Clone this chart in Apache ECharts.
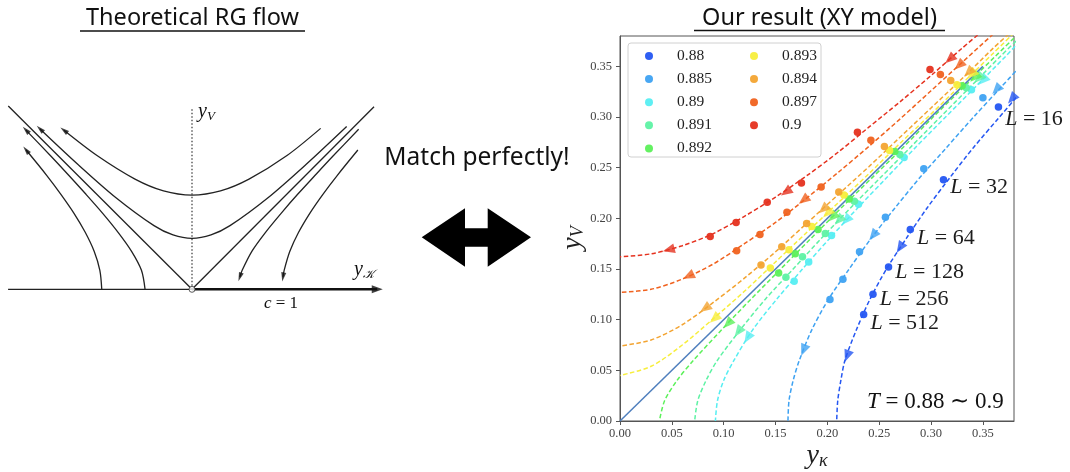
<!DOCTYPE html>
<html><head><meta charset="utf-8">
<script src="https://cdn.jsdelivr.net/npm/echarts@6/dist/echarts.min.js"></script>
<style>html,body{margin:0;padding:0;background:#fff}#c{width:1070px;height:472px}</style>
</head><body><div id="c"></div>
<script>
// ---------------- data (right panel: XY model RG flow) ----------------
const temps = ['0.88','0.885','0.89','0.891','0.892','0.893','0.894','0.897','0.9'];
const sizesL = [16, 32, 64, 128, 256, 512];
const tickValues = [0, 0.05, 0.10, 0.15, 0.20, 0.25, 0.30, 0.35];

// measured points (L = 16 ... 512) for each T
const points088  = [[0.365,0.310],[0.312,0.238],[0.280,0.189],[0.259,0.152],[0.244,0.125],[0.235,0.105]];
const points0885 = [[0.350,0.319],[0.293,0.249],[0.256,0.201],[0.231,0.167],[0.215,0.140],[0.2025,0.120]];
const points089  = [[0.339,0.327],[0.274,0.260],[0.230,0.214],[0.204,0.183],[0.182,0.157],[0.168,0.138]];
const points0891 = [[0.334,0.329],[0.270,0.263],[0.226,0.217],[0.198,0.185],[0.176,0.162],[0.160,0.142]];
const points0892 = [[0.330,0.331],[0.265,0.266],[0.221,0.219],[0.191,0.189],[0.169,0.165],[0.153,0.146]];
const points0893 = [[0.325,0.332],[0.260,0.267],[0.216,0.223],[0.185,0.192],[0.163,0.169],[0.145,0.151]];
const points0894 = [[0.319,0.336],[0.255,0.271],[0.211,0.226],[0.180,0.195],[0.156,0.172],[0.136,0.154]];
const points0897 = [[0.309,0.342],[0.242,0.277],[0.194,0.231],[0.161,0.206],[0.135,0.184],[0.1125,0.168]];
const points090  = [[0.299,0.347],[0.229,0.285],[0.175,0.235],[0.142,0.216],[0.112,0.196],[0.087,0.182]];

// flow curves (dashed), in flow direction
const curve088  = [[0.391,0.33],[0.366,0.30],[0.341,0.27],[0.318,0.24],[0.296,0.21],[0.276,0.18],[0.257,0.15],[0.241,0.12],[0.228,0.09],[0.217,0.06],[0.213,0.04],[0.210,0.02],[0.209,0]];
const curve0885 = [[0.386,0.35],[0.368,0.33],[0.341,0.30],[0.315,0.27],[0.289,0.24],[0.265,0.21],[0.242,0.18],[0.221,0.15],[0.201,0.12],[0.185,0.09],[0.173,0.06],[0.167,0.04],[0.163,0.02],[0.162,0]];
const curve089  = [[0.381,0.37],[0.372,0.36],[0.343,0.33],[0.314,0.30],[0.285,0.27],[0.257,0.24],[0.229,0.21],[0.202,0.18],[0.176,0.15],[0.151,0.12],[0.128,0.09],[0.110,0.06],[0.100,0.04],[0.094,0.02],[0.092,0]];
const curve0891 = [[0.382,0.375],[0.367,0.36],[0.338,0.33],[0.309,0.30],[0.280,0.27],[0.251,0.24],[0.222,0.21],[0.194,0.18],[0.167,0.15],[0.140,0.12],[0.116,0.09],[0.094,0.06],[0.083,0.04],[0.075,0.02],[0.072,0]];
const curve0892 = [[0.380,0.378],[0.362,0.36],[0.332,0.33],[0.302,0.30],[0.273,0.27],[0.243,0.24],[0.213,0.21],[0.184,0.18],[0.155,0.15],[0.126,0.12],[0.098,0.09],[0.071,0.06],[0.055,0.04],[0.043,0.02],[0.038,0]];
const curve0893 = [[0.38,0.383],[0.36,0.363],[0.33,0.333],[0.30,0.303],[0.27,0.274],[0.24,0.244],[0.21,0.215],[0.18,0.186],[0.15,0.157],[0.12,0.128],[0.09,0.101],[0.06,0.075],[0.03,0.054],[0,0.045]];
const curve0894 = [[0.375,0.382],[0.36,0.368],[0.33,0.338],[0.30,0.309],[0.27,0.280],[0.24,0.251],[0.21,0.223],[0.18,0.195],[0.15,0.167],[0.12,0.141],[0.09,0.117],[0.06,0.095],[0.03,0.080],[0,0.074]];
const curve0897 = [[0.36,0.382],[0.33,0.354],[0.30,0.326],[0.27,0.298],[0.24,0.271],[0.21,0.245],[0.18,0.220],[0.15,0.196],[0.12,0.175],[0.09,0.155],[0.06,0.140],[0.03,0.130],[0,0.127]];
const curve090  = [[0.345,0.381],[0.33,0.368],[0.30,0.341],[0.27,0.315],[0.24,0.290],[0.21,0.265],[0.18,0.242],[0.15,0.221],[0.12,0.202],[0.09,0.185],[0.06,0.173],[0.03,0.165],[0,0.162]];

// arrow head positions along each flow curve
const arrows088  = [[0.378,0.318],[0.270,0.171],[0.219,0.064]];
const arrows0885 = [[0.363,0.327],[0.244,0.183],[0.177,0.070]];
const arrows089  = [[0.350,0.336],[0.218,0.198],[0.123,0.082]];
const arrows0891 = [[0.346,0.338],[0.211,0.198],[0.114,0.088]];
const arrows0892 = [[0.342,0.339],[0.205,0.201],[0.104,0.096]];
const arrows0893 = [[0.339,0.342],[0.200,0.205],[0.091,0.101]];
const arrows0894 = [[0.336,0.344],[0.196,0.209],[0.082,0.111]];
const arrows0897 = [[0.327,0.351],[0.177,0.218],[0.066,0.143]];
const arrows090  = [[0.318,0.357],[0.160,0.226],[0.047,0.169]];

const diagonal = [[0,0],[0.35,0.35]];

// ---------------- data (left panel: schematic RG flow) ----------------
const schemAxisLeft  = [[-0.968,0],[0,0]];
const schemAxisRight = [[0,0],[0.975,0]];
const schemSepLeft   = [[0,0],[-0.967,0.965]];
const schemSepRight  = [[0,0],[0.958,0.961]];
const schemVertical  = [[0,0],[0,0.954]];
const schemCurveA = [[0.677,0.847],[0.5,0.704],[0.3,0.58],[0.15,0.518],[0,0.496],[-0.15,0.518],[-0.3,0.58],[-0.5,0.704],[-0.674,0.837]];
const schemCurveB = [[0.814,0.857],[0.6,0.657],[0.4,0.482],[0.2,0.335],[0.1,0.286],[0,0.268],[-0.1,0.286],[-0.2,0.335],[-0.4,0.482],[-0.6,0.657],[-0.8,0.844]];
const schemFlowL1 = [[-0.475,0],[-0.485,0.1],[-0.515,0.2],[-0.562,0.3],[-0.621,0.4],[-0.69,0.5],[-0.765,0.6],[-0.873,0.733]];
const schemFlowL2 = [[-0.247,0],[-0.266,0.1],[-0.318,0.2],[-0.389,0.3],[-0.47,0.4],[-0.558,0.5],[-0.649,0.6],[-0.742,0.7],[-0.874,0.838]];
const schemFlowR1 = [[0.877,0.842],[0.741,0.7],[0.648,0.6],[0.556,0.5],[0.469,0.4],[0.387,0.3],[0.315,0.2],[0.264,0.1],[0.252,0.065]];
const schemFlowR2 = [[0.873,0.733],[0.765,0.6],[0.689,0.5],[0.62,0.4],[0.561,0.3],[0.515,0.2],[0.485,0.1],[0.479,0.065]];
const schemOrigin = [[0,0]];

// ---------------- styles ----------------
const tempColors = ['#2456f2','#3ea2f2','#56eef2','#5ef2a4','#5cf05a','#f7ee3c','#f3a432','#f0621f','#e5321f'];
const labelOffsets = [[0,12],[0,7],[0,9],[0,5],[0,5],[0,9]];

const pointsByT = [points088,points0885,points089,points0891,points0892,points0893,points0894,points0897,points090];
const curvesByT = [curve088,curve0885,curve089,curve0891,curve0892,curve0893,curve0894,curve0897,curve090];
const arrowsByT = [arrows088,arrows0885,arrows089,arrows0891,arrows0892,arrows0893,arrows0894,arrows0897,arrows090];

const serif = 'Liberation Serif';
const sans = 'Noto Sans';

const chart = echarts.init(document.getElementById('c'), null, {renderer:'canvas'});

function segDist(p, a, b) {
  const vx=b[0]-a[0], vy=b[1]-a[1];
  let t=((p[0]-a[0])*vx+(p[1]-a[1])*vy)/(vx*vx+vy*vy||1);
  t=Math.max(0,Math.min(1,t));
  const dx=a[0]+t*vx-p[0], dy=a[1]+t*vy-p[1];
  return dx*dx+dy*dy;
}
function rotationAt(axisIdx, curve, pos) {
  let best=0, bd=Infinity;
  for (let k=0;k<curve.length-1;k++){ const d=segDist(pos,curve[k],curve[k+1]); if(d<bd){bd=d;best=k;} }
  const f={xAxisIndex:axisIdx,yAxisIndex:axisIdx};
  const p0=chart.convertToPixel(f,curve[best]);
  const p1=chart.convertToPixel(f,curve[best+1]);
  if(!p0||!p1) return 0;
  return -90 - Math.atan2(p1[1]-p0[1], p1[0]-p0[0])*180/Math.PI;
}

function buildSeries(withRot) {
  const series = [];
  // right panel
  series.push({type:'line', name:'diag', xAxisIndex:0, yAxisIndex:0, data:diagonal, showSymbol:false, silent:true,
    lineStyle:{color:'#4f7fbd', width:1.5}, z:3});
  temps.forEach((t,i)=>{
    series.push({type:'line', name:t+' flow', xAxisIndex:0, yAxisIndex:0, data:curvesByT[i], showSymbol:false, smooth:0.3,
      lineStyle:{color:tempColors[i], width:1.5, type:[4.5,2.5]}, silent:true, z:2, clip:true});
  });
  temps.forEach((t,i)=>{
    series.push({type:'scatter', name:t+' arrow', xAxisIndex:0, yAxisIndex:0, symbol:'triangle', symbolSize:[10,12],
      itemStyle:{color:tempColors[i]}, silent:true, z:4,
      data:arrowsByT[i].map(p=>({value:p, symbolRotate: withRot ? rotationAt(0,curvesByT[i],p) : 0}))});
  });
  temps.forEach((t,i)=>{
    const s = {type:'scatter', name:t, xAxisIndex:0, yAxisIndex:0, symbol:'circle', symbolSize:7.5,
      itemStyle:{color:tempColors[i], opacity:0.95}, z:5, data:pointsByT[i].map(p=>({value:p}))};
    if (i===0) {
      s.data = pointsByT[i].map((p,k)=>({value:p, label:{show:true, position:'right', distance:3, offset:labelOffsets[k],
        formatter:'{i|L} = '+sizesL[k], fontFamily:serif, fontSize:22, color:'#111',
        rich:{i:{fontFamily:serif, fontStyle:'italic', fontSize:22, color:'#111'}}}}));
    }
    series.push(s);
  });
  // left panel
  const blk = {color:'#222', width:1.3};
  const lp = (data, extra)=>Object.assign({type:'line', xAxisIndex:1, yAxisIndex:1, data, showSymbol:false, silent:true, clip:false,
     lineStyle:Object.assign({}, blk)}, extra||{});
  series.push(lp(schemAxisLeft));
  series.push(lp(schemAxisRight, {lineStyle:{color:'#111', width:2.6}}));
  series.push(lp(schemSepLeft));
  series.push(lp(schemSepRight));
  series.push(lp(schemVertical, {lineStyle:{color:'#444', width:1.3, type:[1.5,2]}}));
  const flows = [schemCurveA, schemCurveB, schemFlowL1, schemFlowL2, schemFlowR1, schemFlowR2];
  flows.forEach(c=>series.push(lp(c, {smooth:0.3})));
  series.push({type:'scatter', xAxisIndex:1, yAxisIndex:1, symbol:'triangle', symbolSize:[5,9], silent:true, z:4,
    itemStyle:{color:'#111'},
    data:flows.map(c=>({value:c[c.length-1], symbolRotate: withRot ? rotationAt(1,c.slice(-2),c[c.length-1]) : 0}))});
  series.push({type:'scatter', xAxisIndex:1, yAxisIndex:1, symbol:'triangle', symbolSize:[8,11], silent:true, z:4,
    itemStyle:{color:'#111'}, data:[{value:schemAxisRight[1], symbolRotate: withRot ? rotationAt(1,schemAxisRight,schemAxisRight[1]) : -90}]});
  series.push({type:'scatter', xAxisIndex:1, yAxisIndex:1, symbol:'circle', symbolSize:6, silent:true, z:5,
    itemStyle:{color:'#fff', borderColor:'#333', borderWidth:1}, data:schemOrigin});
  return series;
}

const axisCommon = {
  type:'value', min:0, max:0.38, interval:0.05,
  axisLine:{show:true, onZero:false, lineStyle:{color:'#555', width:1}},
  axisTick:{show:true, length:4, inside:false, customValues:tickValues, lineStyle:{color:'#555'}},
  splitLine:{show:false},
  axisLabel:{customValues:tickValues, formatter:v=>v.toFixed(2), fontFamily:serif, fontSize:12.5, color:'#444'}
};

const legendCommon = {orient:'vertical', icon:'circle', itemWidth:8, itemHeight:8, itemGap:7.1, top:43,
  selectedMode:false, textStyle:{fontFamily:serif, fontSize:15.5, color:'#222', lineHeight:14, padding:[0,0,0,19]}};

const option = {
  animation:false,
  backgroundColor:'#fff',
  grid:[
    {left:620, top:36, width:394, height:385, show:true, borderColor:'#555', borderWidth:1, backgroundColor:'transparent'},
    {left:2, top:99.3, width:380, height:190, show:false}
  ],
  xAxis:[
    Object.assign({}, axisCommon, {gridIndex:0, axisLabel:Object.assign({}, axisCommon.axisLabel, {margin:6})}),
    {type:'value', gridIndex:1, min:-1, max:1, show:false}
  ],
  yAxis:[
    Object.assign({}, axisCommon, {gridIndex:0, axisLabel:Object.assign({}, axisCommon.axisLabel, {margin:8})}),
    {type:'value', gridIndex:1, min:0, max:1, show:false}
  ],
  legend:[
    Object.assign({}, legendCommon, {left:640, data:temps.slice(0,5)}),
    Object.assign({}, legendCommon, {left:745, data:temps.slice(5)})
  ],
  graphic:[
    {type:'text', x:192.5, y:18.5, style:{text:'Theoretical RG flow', font:'23.5px "'+sans+'"', fill:'#111', align:'center', verticalAlign:'middle'}},
    {type:'line', shape:{x1:80, y1:31, x2:305, y2:31}, style:{stroke:'#111', lineWidth:1.3}},
    {type:'text', x:819.5, y:18.5, style:{text:'Our result (XY model)', font:'23.5px "'+sans+'"', fill:'#111', align:'center', verticalAlign:'middle'}},
    {type:'line', shape:{x1:694, y1:30.5, x2:945, y2:30.5}, style:{stroke:'#111', lineWidth:1.3}},
    {type:'text', x:477, y:158, style:{text:'Match perfectly!', font:'24.5px "'+sans+'"', fill:'#111', align:'center', verticalAlign:'middle'}},
    {type:'polygon', shape:{points:[[421.7,237.3],[465,208.3],[465,228.3],[487.7,228.3],[487.7,208.3],[531,237.3],[487.7,266.7],[487.7,246.7],[465,246.7],[465,266.7]]},
      style:{fill:'#000'}},
    {type:'rect', shape:{x:628, y:43, width:193, height:114, r:3}, style:{fill:'rgba(255,255,255,0.85)', stroke:'#d0d0d0', lineWidth:1}, z:3},
    // left panel labels
    {type:'text', x:198, y:112, style:{text:'{i|y}{s|V}', verticalAlign:'middle',
      rich:{i:{fontFamily:serif, fontStyle:'italic', fontSize:20, lineHeight:22, fill:'#111', verticalAlign:'middle'},
            s:{fontFamily:serif, fontStyle:'italic', fontSize:13, lineHeight:13, fill:'#111', verticalAlign:'bottom'}}}},
    {type:'text', x:354, y:270, style:{text:'{i|y}{s|𝒦}', verticalAlign:'middle',
      rich:{i:{fontFamily:serif, fontStyle:'italic', fontSize:20, lineHeight:22, fill:'#111', verticalAlign:'middle'},
            s:{fontFamily:'DejaVu Serif', fontStyle:'italic', fontSize:12, lineHeight:12, fill:'#111', verticalAlign:'bottom'}}}},
    {type:'text', x:281, y:304, style:{text:'{i|c} = 1', align:'center', verticalAlign:'middle', fontFamily:serif, fontSize:17, fill:'#111',
      rich:{i:{fontFamily:serif, fontStyle:'italic', fontSize:17, fill:'#111'}}}},
    // right panel axis names
    {type:'text', x:817, y:456, style:{text:'{i|y}{s|κ}', align:'center', verticalAlign:'middle',
      rich:{i:{fontFamily:serif, fontStyle:'italic', fontSize:28, lineHeight:28, fill:'#222', verticalAlign:'middle'},
            s:{fontFamily:serif, fontStyle:'italic', fontSize:18, lineHeight:16, fill:'#222', verticalAlign:'bottom'}}}},
    {type:'text', x:573, y:238, rotation:Math.PI/2, style:{text:'{i|y}{s|V}', align:'center', verticalAlign:'middle',
      rich:{i:{fontFamily:serif, fontStyle:'italic', fontSize:28, lineHeight:28, fill:'#222', verticalAlign:'middle'},
            s:{fontFamily:serif, fontStyle:'italic', fontSize:18, lineHeight:16, fill:'#222', verticalAlign:'bottom'}}}},
    {type:'text', x:867, y:402, style:{text:'{i|T} = 0.88 ∼ 0.9', verticalAlign:'middle', fontFamily:serif, fontSize:23, fill:'#111',
      rich:{i:{fontFamily:serif, fontStyle:'italic', fontSize:23, fill:'#111'}}}, z:10}
  ],
  series: buildSeries(false)
};
chart.setOption(option);
chart.setOption({series: buildSeries(true)});
</script></body></html>
